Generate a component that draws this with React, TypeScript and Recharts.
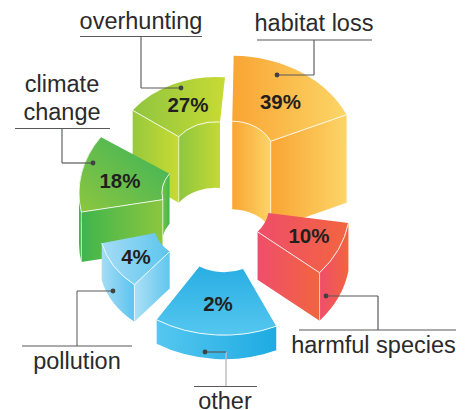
import { Pie, PieChart } from 'recharts';

// Counter-clockwise from the orange slice, which also gives the paint order the picture needs.
const categories = ['habitat loss', 'overhunting', 'climate change', 'pollution', 'other', 'harmful species'];
const percents = [39, 27, 18, 4, 2, 10];
// The drawn wedges do not follow the printed percents, so their sweep is read off the picture.
const arcDegrees = [65, 55, 45, 36.5, 56.8, 31];
const gapDegrees = [0, 2, 2.5, 7.7, 25.5, 33];

const rows = categories.flatMap((category, i) => [
  { category, percent: percents[i], arc: arcDegrees[i] },
  { category: '', percent: 0, arc: gapDegrees[i] }
]).filter((row) => row.arc > 0);

const SQUASH = 0.787;
const TEXT = '#2b2a2c';
const FONT = '"Liberation Sans", Arial, sans-serif';

type Stops = [string, string];
type Look = {
  dx: number; dy: number; inner: number; outer: number; depth: number;
  reach?: number; // the wedge tucks back this many degrees past its start
  top: Stops; topDir: [number, number, number, number];
  sides: Record<string, Stops>;
  pct: [number, number];
  dot: [number, number]; bend: [number, number]; foot: [number, number];
  stem: string; stemWidth: number;
  rule: [number, number];
  label: { text: string; x: number; y: number }[];
};

const looks: Record<string, Look> = {
  'habitat loss': {
    dx: 21.5, dy: -45, inner: 43, outer: 126, depth: 88,
    top: ['#f9a533', '#fcd667'], topDir: [0, 0, 1, 0],
    sides: { start: ['#f9a533', '#fcd567'], inner: ['#f9a533', '#fcd567'] },
    pct: [280.5, 109], dot: [277, 75], bend: [314, 75], foot: [314, 40], rule: [257, 372],
    stem: '#77787b', stemWidth: 1.4,
    label: [{ text: 'habitat loss', x: 314, y: 31 }]
  },
  overhunting: {
    dx: 6, dy: -42, inner: 46, outer: 103, depth: 66, reach: 4,
    top: ['#8fc540', '#c8da33'], topDir: [0, 0, 1, 0],
    sides: { end: ['#97c93d', '#c8da33'], inner: ['#8ec63f', '#c4d936'] },
    pct: [188, 112], dot: [181, 88], bend: [141, 88], foot: [141, 36.5], rule: [80, 202],
    stem: '#6d6e71', stemWidth: 1.3,
    label: [{ text: 'overhunting', x: 141, y: 29 }]
  },
  'climate change': {
    dx: -4, dy: -7, inner: 44, outer: 127, depth: 50,
    top: ['#39b35a', '#8dc63f'], topDir: [1, 0, 0, 1],
    sides: { outer: ['#3fb54d', '#6abd45'], inner: ['#7cc243', '#3fb64f'], end: ['#3fb54d', '#8dc63f'] },
    pct: [120, 188], dot: [93, 163], bend: [62, 163], foot: [62, 128.5], rule: [15, 110],
    stem: '#626366', stemWidth: 1.2,
    label: [{ text: 'climate', x: 62, y: 92 }, { text: 'change', x: 62, y: 120 }]
  },
  pollution: {
    dx: -12, dy: 25, inner: 44, outer: 99, depth: 37,
    top: ['#a5dcf5', '#5bc5ee'], topDir: [0, 0, 1, 0],
    sides: { outer: ['#a5dcf5', '#5cc4ee'], end: ['#aee0f6', '#61c6ee'] },
    pct: [136, 264], dot: [113, 291], bend: [77, 291], foot: [77, 346], rule: [22, 132],
    stem: '#939598', stemWidth: 1.6,
    label: [{ text: 'pollution', x: 77, y: 369 }]
  },
  other: {
    dx: 14, dy: 36, inner: 46, outer: 126, depth: 24,
    top: ['#29aee3', '#55c7ef'], topDir: [0, 0, 0, 1],
    sides: { outer: ['#55c7ef', '#1eabe2'] },
    pct: [218, 311], dot: [205, 352], bend: [226, 352], foot: [226, 386.5], rule: [194, 257],
    stem: '#bcbec0', stemWidth: 1.4,
    label: [{ text: 'other', x: 225, y: 408.5 }]
  },
  'harmful species': {
    dx: 10, dy: 7, inner: 49, outer: 130, depth: 48,
    top: ['#ee4d6a', '#f3653f'], topDir: [0, 0, 1, 0],
    sides: { start: ['#ef4e6b', '#f2643f'], outer: ['#ef4e6b', '#f2643f'] },
    pct: [309, 243], dot: [326, 296], bend: [378, 296], foot: [378, 330], rule: [299, 456],
    stem: '#58595b', stemWidth: 1.2,
    label: [{ text: 'harmful species', x: 373.5, y: 353 }]
  }
};

function Slice(props: any) {
  const { cx, cy, startAngle, endAngle, payload } = props;
  const look = looks[payload.category];
  if (!look) return <g />;
  const ax = cx + look.dx;
  const ay = cy + look.dy;
  const at = (deg: number, r: number, drop = 0) => {
    const a = (deg * Math.PI) / 180;
    return [ax + r * Math.cos(a), ay - SQUASH * r * Math.sin(a) + drop];
  };
  const arc = (r: number, to: number, sweep: number, drop = 0) => {
    const [x, y] = at(to, r, drop);
    return `A${r} ${r * SQUASH} 0 0 ${sweep} ${x} ${y}`;
  };
  const move = (p: number[]) => `M${p[0]} ${p[1]}`;
  const line = (p: number[]) => `L${p[0]} ${p[1]}`;
  const { inner, outer, depth } = look;
  const s = startAngle - (look.reach ?? 0);
  const e = endAngle;

  const band = (r: number, from: number, to: number) =>
    `${move(at(from, r))}${arc(r, to, 0)}${line(at(to, r, depth))}${arc(r, from, 1, depth)}Z`;
  // a wall crossing the far left of the ellipse folds over itself, so it is swept in two parts
  const outerWall = s < 180 && e > 180
    ? `${band(outer, s, 180)}${move(at(180, outer))}${line(at(180, outer, depth))}${arc(outer, e, 0, depth)}${line(at(e, outer))}${arc(outer, 180, 1)}Z`
    : band(outer, s, e);

  const facePaths: Record<string, string> = {
    start: `${move(at(s, inner))}${line(at(s, outer))}${line(at(s, outer, depth))}${line(at(s, inner, depth))}Z`,
    end: `${move(at(e, inner))}${line(at(e, outer))}${line(at(e, outer, depth))}${line(at(e, inner, depth))}Z`,
    inner: band(inner, s, e),
    outer: outerWall
  };
  const rimPaths: Record<string, string> = {
    start: `${move(at(s, inner))}${line(at(s, outer))}`,
    end: `${move(at(e, inner))}${line(at(e, outer))}`,
    inner: `${move(at(s, inner))}${arc(inner, e, 0)}`,
    outer: `${move(at(s, outer))}${arc(outer, e, 0)}`
  };
  const topPath = `${move(at(s, inner))}${line(at(s, outer))}${arc(outer, e, 0)}${line(at(e, inner))}${arc(inner, s, 1)}Z`;
  const id = payload.category.replace(' ', '-');
  const sideNames = Object.keys(look.sides);
  const [x1, y1, x2, y2] = look.topDir;

  // thin light edges where a side wall meets a curved wall
  const creases = ['inner', 'outer'].filter((curve) => look.sides[curve]).flatMap((curve) =>
    ['start', 'end'].filter((side) => look.sides[side]).map((side) => {
      const a = side === 'start' ? s : e;
      const r = curve === 'inner' ? inner : outer;
      return `${move(at(a, r))}${line(at(a, r, depth))}`;
    })
  );

  return (
    <g>
      <defs>
        <linearGradient id={`${id}-top`} x1={x1} y1={y1} x2={x2} y2={y2}>
          <stop offset="0" stopColor={look.top[0]} />
          <stop offset="1" stopColor={look.top[1]} />
        </linearGradient>
        {sideNames.map((name) => (
          <linearGradient key={name} id={`${id}-${name}`} x1="0" y1="0" x2="1" y2="0">
            <stop offset="0" stopColor={look.sides[name][0]} />
            <stop offset="1" stopColor={look.sides[name][1]} />
          </linearGradient>
        ))}
      </defs>
      {sideNames.map((name) => (
        <path key={name} d={facePaths[name]} fill={`url(#${id}-${name})`} />
      ))}
      <path d={topPath} fill={`url(#${id}-top)`} />
      {sideNames.map((name) => (
        <path key={name} d={rimPaths[name]} fill="none" stroke="#fff" strokeOpacity={0.85} strokeWidth={1} />
      ))}
      {creases.map((d) => (
        <path key={d} d={d} fill="none" stroke="#fff" strokeOpacity={0.7} strokeWidth={0.9} />
      ))}
      <text x={look.pct[0]} y={look.pct[1]} textAnchor="middle" fontFamily={FONT} fontWeight={700} fontSize={20.5} fill="#231f20">
        {payload.percent}%
      </text>
      <line x1={look.bend[0]} y1={look.bend[1]} x2={look.foot[0]} y2={look.foot[1]} stroke={look.stem} strokeWidth={look.stemWidth} />
      <line x1={look.dot[0]} y1={look.dot[1]} x2={look.bend[0]} y2={look.bend[1]} stroke="#58595b" strokeWidth={1.2} />
      <circle cx={look.dot[0]} cy={look.dot[1]} r={2.4} fill="#414042" />
      <line x1={look.rule[0]} x2={look.rule[1]} y1={look.foot[1]} y2={look.foot[1]} stroke="#58595b" strokeWidth={1.2} />
      {look.label.map((row) => (
        <text key={row.text} x={row.x} y={row.y} textAnchor="middle" fontFamily={FONT} fontSize={23.5} fill={TEXT}>
          {row.text}
        </text>
      ))}
    </g>
  );
}

export default function App() {
  return (
    <div style={{ position: 'absolute', left: 0, top: 0, width: 466, height: 410, background: '#fff' }}>
      <PieChart width={466} height={410} margin={{ top: 0, right: 0, bottom: 0, left: 0 }}>
        <Pie
          data={rows}
          dataKey="arc"
          nameKey="category"
          cx={210}
          cy={200}
          innerRadius={44}
          outerRadius={126}
          startAngle={24}
          endAngle={384}
          stroke="none"
          shape={Slice}
          isAnimationActive={false}
          rootTabIndex={-1}
        />
      </PieChart>
    </div>
  );
}
